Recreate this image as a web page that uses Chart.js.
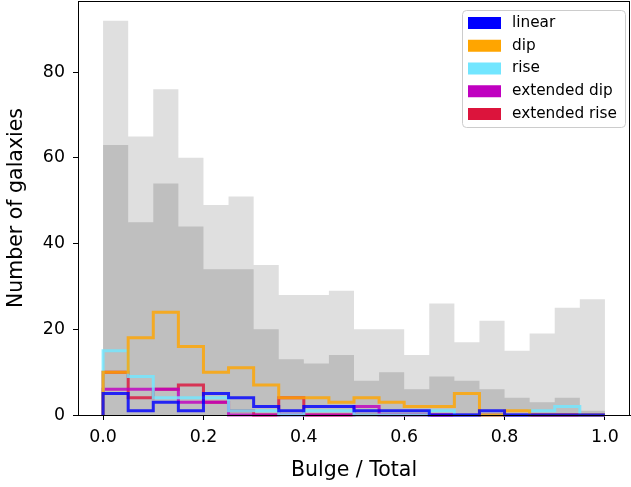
<!DOCTYPE html>
<html>
<head>
<meta charset="utf-8">
<script src="https://cdn.jsdelivr.net/npm/chart.js@4/dist/chart.umd.min.js"></script>
<style>
  html, body { margin: 0; padding: 0; background: #fff; }
  #wrap { width: 631px; height: 487px; }
</style>
</head>
<body>
<div id="wrap"><canvas id="plot-id" width="631" height="487"></canvas></div>
<script>
// bin edges of the Bulge / Total histogram
const binEdges = [0.0, 0.05, 0.1, 0.15, 0.2, 0.25, 0.3, 0.35, 0.4, 0.45, 0.5,
                  0.55, 0.6, 0.65, 0.7, 0.75, 0.8, 0.85, 0.9, 0.95, 1.0];
const xTicks = [0.0, 0.2, 0.4, 0.6, 0.8, 1.0];
const yTicks = [0, 20, 40, 60, 80];

// counts per bin
const allGalaxies = [92, 65, 76, 60, 49, 51, 35, 28, 28, 29, 20, 20, 14, 26, 17, 22, 15, 19, 25, 27];
const sample      = [63, 45, 54, 44, 34, 34, 20, 13, 12, 14, 8, 10, 6, 9, 8, 6, 4, 3, 4, 1];
const linear      = [5, 1, 3, 1, 5, 4, 2, 1, 2, 2, 1, 1, 1, 0, 0, 1, 0, 0, 0, 0];
const dip         = [10, 18, 24, 16, 10, 11, 7, 4, 4, 3, 4, 3, 2, 2, 5, 0, 1, 0, 0, 0];
const rise        = [15, 9, 4, 4, 4, 1, 1, 0, 1, 1, 0, 0, 0, 1, 0, 0, 0, 1, 2, 0];
const extDip      = [6, 6, 6, 3, 3, 0, 0, 0, 0, 0, 2, 0, 0, 0, 0, 0, 0, 0, 0, 0];
const extRise     = [10, 4, 6, 7, 3, 1, 0, 4, 0, 0, 0, 0, 0, 0, 0, 0, 0, 0, 0, 0];

const seriesNames = ['linear', 'dip', 'rise', 'extended dip', 'extended rise'];
const seriesData = [linear, dip, rise, extDip, extRise];
const seriesColors = ['#0000ff', '#ffa500', '#72e6ff', '#c000c0', '#dc143c'];
const lineColors = ['rgba(0,0,255,0.82)', 'rgba(255,165,0,0.82)', 'rgba(114,230,255,0.82)',
                    'rgba(192,0,192,0.82)', 'rgba(220,20,60,0.82)'];

// step outline of a histogram, as points on the bin edges
function stepPoints(counts) {
    let pts = [{ x: binEdges[0], y: 0 }];
    for (let i = 0; i < counts.length; i++) {
        pts.push({ x: binEdges[i], y: counts[i] });
    }
    pts.push({ x: binEdges[counts.length], y: counts[counts.length - 1] });
    pts.push({ x: binEdges[counts.length], y: 0 });
    return pts;
}

let datasets = [
    {
        data: stepPoints(allGalaxies),
        stepped: 'before',
        fill: 'origin',
        backgroundColor: '#dfdfdf',
        borderWidth: 0,
        pointRadius: 0,
        order: 10
    },
    {
        data: stepPoints(sample),
        stepped: 'before',
        fill: 'origin',
        backgroundColor: '#bfbfbf',
        borderWidth: 0,
        pointRadius: 0,
        order: 9
    }
];
// linear ends up on top, extended rise at the bottom
for (let i = 0; i < seriesData.length; i++) {
    datasets.push({
        label: seriesNames[i],
        data: stepPoints(seriesData[i]),
        stepped: 'before',
        fill: false,
        borderColor: lineColors[i],
        borderWidth: 3,
        pointRadius: 0,
        clip: false,
        order: i + 1
    });
}

// box around the plot + legend in the upper right corner
const framePlugin = {
    id: 'frame',
    afterDraw(chart) {
        const ctx = chart.ctx;
        const a = chart.chartArea;
        ctx.save();
        ctx.strokeStyle = '#000';
        ctx.lineWidth = 1;
        ctx.strokeRect(a.left + 0.5, a.top + 0.5, a.right - a.left - 1, a.bottom - a.top);

        // legend
        const bx = a.right - 167.5, by = a.top + 9.5, bw = 163, bh = 117;
        ctx.beginPath();
        ctx.roundRect(bx, by, bw, bh, 4);
        ctx.fillStyle = 'rgba(255,255,255,0.8)';
        ctx.fill();
        ctx.strokeStyle = '#cccccc';
        ctx.stroke();
        ctx.font = '15.3px "DejaVu Sans"';
        ctx.textBaseline = 'middle';
        for (let i = 0; i < seriesNames.length; i++) {
            const rowY = by + 12.5 + i * 22.75;
            ctx.fillStyle = seriesColors[i];
            ctx.fillRect(bx + 5.5, rowY - 6, 33, 12);
            ctx.fillStyle = '#000';
            ctx.fillText(seriesNames[i], bx + 49.5, rowY);
        }
        ctx.restore();
    }
};

var ctx = document.getElementById('plot-id');
var chart = new Chart(ctx, {
    type: 'line',
    data: { datasets: datasets },
    plugins: [framePlugin],
    options: {
        responsive: false,
        animation: false,
        layout: { padding: { top: 1, right: 1, left: 0, bottom: 0 } },
        scales: {
            x: {
                type: 'linear',
                min: -0.05,
                max: 1.05,
                afterBuildTicks: (scale) => { scale.ticks = xTicks.map(v => ({ value: v })); },
                afterFit: (scale) => {
                    scale.height = 72;
                    scale.paddingLeft = 0;
                    scale.paddingRight = 0;
                },
                border: { color: '#000', width: 1 },
                grid: { display: true, drawOnChartArea: false, tickLength: 5, color: '#000' },
                ticks: {
                    color: '#000',
                    padding: 7,
                    maxRotation: 0,
                    font: { family: 'DejaVu Sans', size: 17.4 },
                    callback: (v) => Number(v).toFixed(1)
                },
                title: {
                    display: true,
                    text: 'Bulge / Total',
                    color: '#000',
                    font: { family: 'DejaVu Sans', size: 20.5 },
                    padding: { top: 0, bottom: 4 }
                }
            },
            y: {
                min: 0,
                max: 96.6,
                afterBuildTicks: (scale) => { scale.ticks = yTicks.map(v => ({ value: v })); },
                afterFit: (scale) => {
                    scale.width = 78;
                    scale.paddingTop = 0;
                    scale.paddingBottom = 0;
                },
                border: { color: '#000', width: 1 },
                grid: { display: true, drawOnChartArea: false, tickLength: 5, color: '#000' },
                ticks: {
                    color: '#000',
                    padding: 8,
                    font: { family: 'DejaVu Sans', size: 17.4 }
                },
                title: {
                    display: true,
                    text: 'Number of galaxies',
                    color: '#000',
                    font: { family: 'DejaVu Sans', size: 20.5 },
                    padding: { top: 4, bottom: 0 }
                }
            }
        },
        plugins: {
            legend: { display: false },
            tooltip: { enabled: false }
        }
    }
});
</script>
</body>
</html>
